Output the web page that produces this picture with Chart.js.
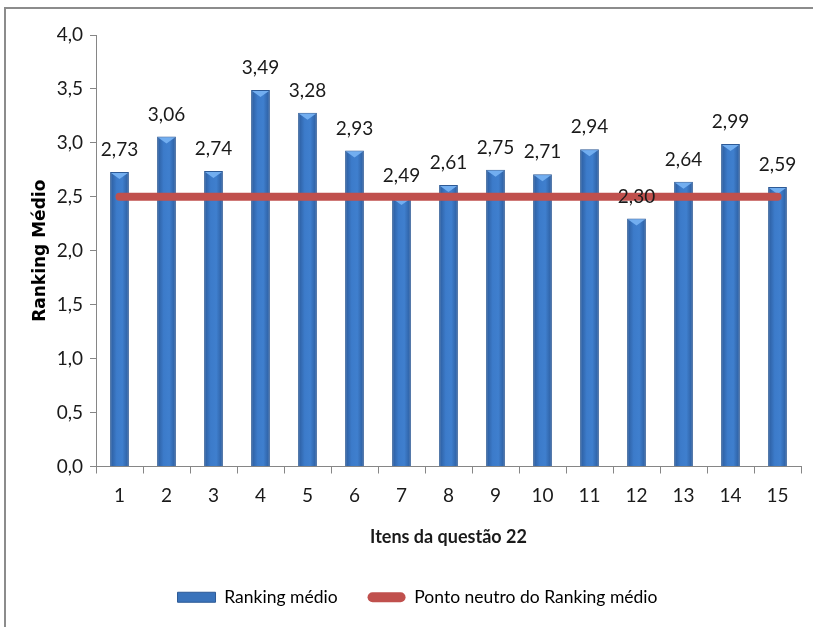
<!DOCTYPE html>
<html>
<head>
<meta charset="utf-8">
<script src="https://cdn.jsdelivr.net/npm/chart.js@4/dist/chart.umd.min.js"></script>
<style>
  html, body { margin: 0; padding: 0; background: #fff; }
  canvas { display: block; }
</style>
</head>
<body>
<canvas id="grafico" width="813" height="627"></canvas>
<script>
// dados
const itens = ["1", "2", "3", "4", "5", "6", "7", "8", "9", "10", "11", "12", "13", "14", "15"];
const rankingMedio = [2.73, 3.06, 2.74, 3.49, 3.28, 2.93, 2.49, 2.61, 2.75, 2.71, 2.94, 2.30, 2.64, 2.99, 2.59];
const pontoNeutro = [2.5, 2.5, 2.5, 2.5, 2.5, 2.5, 2.5, 2.5, 2.5, 2.5, 2.5, 2.5, 2.5, 2.5, 2.5];
const nomesSeries = ["Ranking médio", "Ponto neutro do Ranking médio"];

const virgula = (v, casas) => v.toFixed(casas).replace(".", ",");

Chart.defaults.font.family = "Lato, 'Open Sans', sans-serif";
Chart.defaults.color = "#1a1a1a";

// gradiente horizontal das barras
function corBarra(c) {
    const chart = c.chart;
    if (!chart.chartArea) return "#3a73bb";
    const xs = chart.scales.x;
    const cx = xs.getPixelForValue(c.dataIndex);
    const w = xs.width / itens.length * 0.4;
    const g = chart.ctx.createLinearGradient(cx - w / 2, 0, cx + w / 2, 0);
    g.addColorStop(0, "#2b5b9c");
    g.addColorStop(0.35, "#3c7bca");
    g.addColorStop(0.65, "#3f7fce");
    g.addColorStop(1, "#2b5b9c");
    return g;
}

// moldura (topo e esquerda)
const moldura = {
    id: "moldura",
    beforeDraw(chart) {
        const ctx = chart.ctx;
        ctx.save();
        ctx.fillStyle = "#8c8c8c";
        ctx.fillRect(4, 7, chart.width - 4, 2);
        ctx.fillRect(4, 7, 2, chart.height - 7);
        ctx.restore();
    }
};

// chanfro claro no topo de cada barra
const chanfro = {
    id: "chanfro",
    afterDatasetDraw(chart, args) {
        if (args.index !== 0) return;
        const ctx = chart.ctx;
        ctx.save();
        ctx.fillStyle = "#72aef0";
        args.meta.data.forEach(b => {
            const w = b.width;
            ctx.beginPath();
            ctx.moveTo(b.x - w / 2 + 1, b.y + 1);
            ctx.lineTo(b.x + w / 2 - 1, b.y + 1);
            ctx.lineTo(b.x, b.y + 7);
            ctx.closePath();
            ctx.fill();
        });
        ctx.restore();
    }
};

// rótulos de valor
const rotulos = {
    id: "rotulos",
    afterDatasetsDraw(chart) {
        const ctx = chart.ctx;
        const meta = chart.getDatasetMeta(0);
        ctx.save();
        ctx.font = "19px Lato, 'Open Sans', sans-serif";
        ctx.fillStyle = "#1a1a1a";
        ctx.textAlign = "center";
        ctx.textBaseline = "middle";
        meta.data.forEach((b, i) => {
            ctx.fillText(virgula(rankingMedio[i], 2), b.x, b.y - 22);
        });
        ctx.restore();
    }
};

new Chart(document.getElementById("grafico"), {
    data: {
        labels: itens,
        datasets: [
            {
                type: "bar",
                label: nomesSeries[0],
                data: rankingMedio,
                backgroundColor: corBarra,
                borderColor: "#2d5a96",
                borderWidth: 1,
                barPercentage: 0.8,
                categoryPercentage: 0.5,
                order: 2
            },
            {
                type: "line",
                label: nomesSeries[1],
                data: pontoNeutro,
                borderColor: "#c0504d",
                backgroundColor: "#c0504d",
                borderWidth: 8,
                borderCapStyle: "round",
                pointRadius: 0,
                fill: false,
                order: 1
            }
        ]
    },
    options: {
        responsive: false,
        animation: false,
        layout: { padding: { left: 34, right: 12, top: 35, bottom: 11 } },
        plugins: {
            tooltip: { enabled: false },
            legend: {
                position: "bottom",
                labels: {
                    font: { size: 17.5 },
                    color: "#1a1a1a",
                    padding: 30,
                    boxWidth: 38,
                    boxHeight: 10,
                    useBorderRadius: true,
                    generateLabels: () => [
                        { text: nomesSeries[0], fillStyle: "#3a73bb", strokeStyle: "#2d5a96", lineWidth: 1, borderRadius: 0, datasetIndex: 0 },
                        { text: nomesSeries[1], fillStyle: "#c0504d", strokeStyle: "#c0504d", lineWidth: 0, borderRadius: 5, datasetIndex: 1 }
                    ]
                }
            }
        },
        scales: {
            x: {
                offset: true,
                grid: { drawOnChartArea: false, offset: true, tickLength: 7, color: "#868686" },
                border: { color: "#868686" },
                ticks: { font: { size: 19 }, color: "#1a1a1a", padding: 11 },
                title: {
                    display: true,
                    text: "Itens da questão 22",
                    font: { size: 18, weight: "bold" },
                    color: "#1a1a1a",
                    padding: { top: 0, bottom: 11 }
                },
                afterFit: s => { s.height = 92; }
            },
            y: {
                min: 0,
                max: 4,
                grid: { drawOnChartArea: false, tickLength: 6, color: "#868686" },
                border: { color: "#868686" },
                ticks: {
                    stepSize: 0.5,
                    font: { size: 19 },
                    color: "#1a1a1a",
                    padding: 7,
                    callback: v => virgula(v, 1)
                },
                title: {
                    display: true,
                    text: "Ranking Médio",
                    font: { family: "'DejaVu Sans', sans-serif", size: 17, weight: "bold" },
                    color: "#000",
                    padding: { top: -4, bottom: 0 }
                },
                afterFit: s => { s.width = 62; }
            }
        }
    },
    plugins: [moldura, chanfro, rotulos]
});
</script>
</body>
</html>
